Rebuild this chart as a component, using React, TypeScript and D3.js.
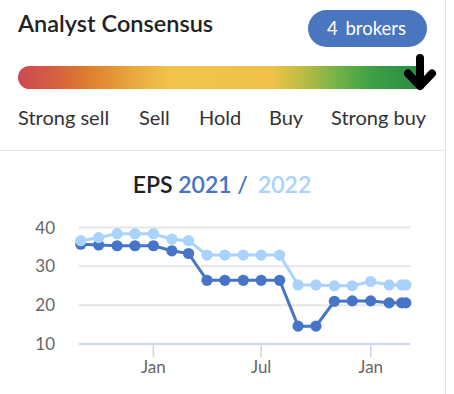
import React, { useEffect, useRef } from 'react';
import * as d3 from 'd3';

// consensus scale
const ratingLabels = ['Strong sell', 'Sell', 'Hold', 'Buy', 'Strong buy'];
const ratingLabelX = [18, 139, 199, 269, 331];
const brokerCount = 4;

// EPS estimates, monthly snapshots
const dates = [
  '2020-09-01', '2020-10-01', '2020-11-01', '2020-12-01',
  '2021-01-01', '2021-02-01', '2021-03-01', '2021-04-01', '2021-05-01', '2021-06-01',
  '2021-07-01', '2021-08-01', '2021-09-01', '2021-10-01', '2021-11-01', '2021-12-01',
  '2022-01-01', '2022-02-01', '2022-02-22', '2022-03-01',
];
const eps2021 = [35.7, 35.5, 35.3, 35.3, 35.3, 34.0, 33.3, 26.4, 26.4, 26.4, 26.4, 26.4, 14.6, 14.6, 21.0, 21.1, 21.1, 20.6, 20.6, 20.6];
const eps2022 = [36.6, 37.4, 38.4, 38.4, 38.4, 37.0, 36.6, 32.9, 32.9, 32.9, 32.9, 32.9, 25.2, 25.2, 25.0, 25.0, 26.1, 25.2, 25.2, 25.2];
const yTicks = [10, 20, 30, 40];

const W = 454;
const H = 394;
const DARK = '#4674c6';
const LIGHT = '#a9d3fe';
const FONT = 'Lato, sans-serif';

const App = () => {
  const ref = useRef<SVGSVGElement>(null);

  useEffect(() => {
    const svg = d3.select(ref.current);
    svg.selectAll('*').remove();

    // frame lines
    svg.append('line').attr('x1', 445.5).attr('x2', 445.5).attr('y1', 0).attr('y2', H)
      .attr('stroke', '#e3e3e3');
    svg.append('line').attr('x1', 0).attr('x2', 445).attr('y1', 150.5).attr('y2', 150.5)
      .attr('stroke', '#e6e6e6');

    // header
    svg.append('text').attr('x', 18).attr('y', 32).attr('font-family', FONT)
      .attr('font-size', 23.5).attr('font-weight', 600).attr('fill', '#222')
      .text('Analyst Consensus');

    svg.append('rect').attr('x', 308).attr('y', 10).attr('width', 119).attr('height', 37)
      .attr('rx', 18.5).attr('fill', '#4a76c0');
    const badge = svg.append('text').attr('y', 35)
      .attr('font-family', FONT).attr('font-size', 18.5).attr('fill', '#fff');
    badge.append('tspan').attr('x', 327).text(brokerCount);
    badge.append('tspan').attr('x', 345.5).text('brokers');

    // gradient bar
    const defs = svg.append('defs');
    const grad = defs.append('linearGradient').attr('id', 'cons').attr('x1', '0%').attr('x2', '100%');
    const stops: [number, string][] = [
      [0, '#ce4854'], [0.1, '#d5633f'], [0.17, '#dc7d2f'], [0.3, '#eaad40'], [0.38, '#f0c34b'],
      [0.63, '#f0c24b'], [0.7, '#c2bd43'], [0.8, '#6fb246'], [0.88, '#3e9f47'], [1, '#2a8b45'],
    ];
    stops.forEach(([o, c]) => grad.append('stop').attr('offset', o).attr('stop-color', c));
    const bx0 = 18, bx1 = 420, by0 = 66, bh = 23, r = bh / 2;
    svg.append('path')
      .attr('d', `M${bx0 + r},${by0} H${bx1} V${by0 + bh} H${bx0 + r} A${r},${r} 0 0 1 ${bx0 + r},${by0} Z`)
      .attr('fill', 'url(#cons)');

    // arrow marker
    svg.append('path').attr('d', 'M420,58 L420,86 M408,73.5 L420,86 L432,73.5')
      .attr('fill', 'none').attr('stroke', '#000').attr('stroke-width', 8)
      .attr('stroke-linecap', 'round').attr('stroke-linejoin', 'round');

    svg.selectAll('.rl').data(ratingLabels).enter().append('text')
      .attr('x', (d, i) => ratingLabelX[i]).attr('y', 125)
      .attr('font-family', FONT).attr('font-size', 20).attr('fill', '#333')
      .text(d => d);

    // EPS title
    const t = svg.append('text').attr('x', 222).attr('y', 193).attr('text-anchor', 'middle')
      .attr('font-family', FONT).attr('font-size', 23).attr('font-weight', 600);
    t.append('tspan').attr('fill', '#222').text('EPS ');
    t.append('tspan').attr('fill', DARK).text('2021 /');
    t.append('tspan').attr('fill', LIGHT).attr('dx', 10).text('2022');

    // chart
    const parse = d3.timeParse('%Y-%m-%d');
    const xs = dates.map(d => parse(d) as Date);
    const x = d3.scaleTime()
      .domain([parse('2020-08-29') as Date, parse('2022-03-08') as Date])
      .range([79, 410]);
    const y = d3.scaleLinear().domain([10, 40]).range([344, 227.5]);

    const g = svg.append('g');
    yTicks.forEach(v => {
      g.append('line').attr('x1', 79).attr('x2', 410).attr('y1', y(v)).attr('y2', y(v))
        .attr('stroke', v === 10 ? '#ccd6eb' : '#e6e6e6').attr('stroke-width', 2);
      g.append('text').attr('x', 55).attr('y', y(v) + 6).attr('text-anchor', 'end')
        .attr('font-family', FONT).attr('font-size', 17).attr('fill', '#666')
        .text(v);
    });

    const xTicks = [parse('2021-01-01'), parse('2021-07-01'), parse('2022-01-01')] as Date[];
    const fmt = d3.timeFormat('%b');
    xTicks.forEach(d => {
      g.append('line').attr('x1', x(d)).attr('x2', x(d)).attr('y1', 344).attr('y2', 357)
        .attr('stroke', '#ccd6eb').attr('stroke-width', 1.5);
      g.append('text').attr('x', x(d)).attr('y', 373).attr('text-anchor', 'middle')
        .attr('font-family', FONT).attr('font-size', 17).attr('fill', '#666')
        .text(fmt(d));
    });

    const line = d3.line<number>().x((d, i) => x(xs[i])).y(d => y(d));
    [[eps2021, DARK], [eps2022, LIGHT]].forEach(([vals, col]) => {
      const v = vals as number[];
      g.append('path').attr('d', line(v)).attr('fill', 'none')
        .attr('stroke', col as string).attr('stroke-width', 3);
      g.selectAll(null).data(v).enter().append('circle')
        .attr('cx', (d, i) => x(xs[i])).attr('cy', d => y(d)).attr('r', 5.6)
        .attr('fill', col as string);
    });
  }, []);

  return (
    <svg ref={ref} width={W} height={H}
      style={{ position: 'absolute', left: 0, top: 0, background: '#fff' }} />
  );
};

export default App;
